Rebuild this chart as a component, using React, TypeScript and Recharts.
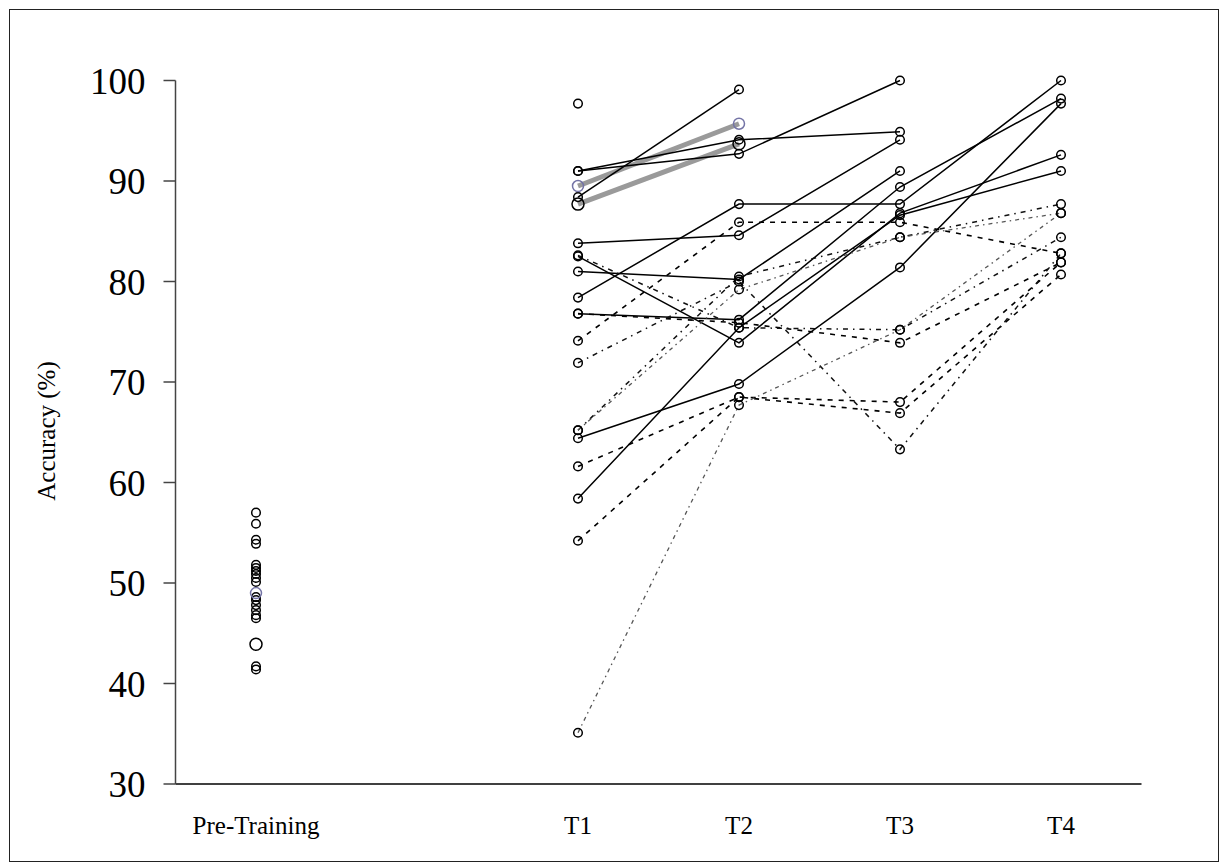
import { ComposedChart, Line, Scatter, XAxis, YAxis } from 'recharts';

// x positions: 0 = Pre-Training, 2..5 = T1..T4 (slot 1 left empty)
const tickPositions = [0, 2, 3, 4, 5];
const tickLabels: Record<number, string> = { 0: 'Pre-Training', 2: 'T1', 3: 'T2', 4: 'T3', 5: 'T4' };
const sessionX = [2, 3, 4, 5];
const yTicks = [30, 40, 50, 60, 70, 80, 90, 100];

const preTraining = [57.0, 55.9, 54.3, 53.9, 51.8, 51.5, 51.2, 50.9, 50.5, 50.1, 48.6, 48.3, 47.8, 47.3, 46.8, 46.5, 41.7, 41.4];

// group summaries (pre, T1, T2)
const purpleMean = [49.0, 89.5, 95.7];
const blackMean = [43.9, 87.7, 93.7];

// individual learners, values at T1..T4 (null = no session)
const solidRuns: (number | null)[][] = [
  [97.7, null, null, null],
  [88.4, 99.1, null, null],
  [91.0, 94.1, 94.9, null],
  [91.0, 92.7, 100.0, null],
  [83.8, 84.6, 94.1, null],
  [78.4, 87.7, 87.7, 100.0],
  [81.0, 80.2, 91.0, null],
  [82.5, 73.9, 86.8, 92.6],
  [76.8, 76.2, 89.4, 98.2],
  [58.4, 75.4, 86.6, 91.0],
  [64.4, 69.8, 81.4, 97.7],
];
const dashedRuns: (number | null)[][] = [
  [74.1, 85.9, 85.9, 82.8],
  [76.8, 75.9, 73.9, 81.9],
  [61.6, 68.5, 68.0, 81.9],
  [54.2, 68.5, 66.9, 80.7],
];
const dotDashRuns: (number | null)[][] = [
  [82.6, 75.4, 75.2, 84.4],
  [71.9, 80.0, 63.3, 82.8],
  [65.2, 80.5, 84.4, 87.7],
];
const greyRuns: (number | null)[][] = [
  [35.1, 67.7, 75.2, 86.8],
  [65.2, 79.2, 84.4, 86.8],
];

const FONT = '"Liberation Serif", "Times New Roman", serif';

const toPoints = (run: (number | null)[]) =>
  run.map((v, i) => ({ x: sessionX[i], y: v })).filter((p) => p.y !== null);

const openDot = (r: number, stroke: string) => (p: any) => (
  <circle key={`dot-${p.index}`} cx={p.cx} cy={p.cy} r={r} fill="none" stroke={stroke} strokeWidth={1.5} />
);

const XTick = ({ x, y, payload }: any) => (
  <text x={x} y={y + 50} textAnchor="middle" fontSize={25} fontFamily={FONT} fill="#000">
    {tickLabels[payload.value]}
  </text>
);

const YLabel = () => (
  <text x={45} y={421} transform="rotate(-90, 45, 421)" textAnchor="middle" fontSize={25} fontFamily={FONT} fill="#000">
    Accuracy (%)
  </text>
);

const styles = [
  { runs: solidRuns, stroke: '#000', dash: undefined, width: 1.5 },
  { runs: dashedRuns, stroke: '#000', dash: '5 6', width: 1.6 },
  { runs: dotDashRuns, stroke: '#111', dash: '5 5 1.5 5', width: 1.5 },
  { runs: greyRuns, stroke: '#555', dash: '4 4 1.5 4', width: 1.3 },
];

export default function App() {
  const preData = preTraining.map((y) => ({ x: 0, y }));
  const purplePre = [{ x: 0, y: purpleMean[0] }];
  const blackPre = [{ x: 0, y: blackMean[0] }];
  const purpleLine = [{ x: 2, y: purpleMean[1] }, { x: 3, y: purpleMean[2] }];
  const blackLine = [{ x: 2, y: blackMean[1] }, { x: 3, y: blackMean[2] }];

  return (
    <div
      style={{
        position: 'absolute',
        left: 9,
        top: 9,
        width: 1208,
        height: 851,
        border: '1px solid #222',
        background: '#fff',
        fontFamily: FONT,
      }}
    >
      <ComposedChart width={1208} height={851} margin={{ top: 70.5, right: 76.5, left: 65.5, bottom: 27 }}>
        <XAxis
          type="number"
          dataKey="x"
          domain={[-0.5, 5.5]}
          ticks={tickPositions}
          tick={<XTick />}
          tickLine={false}
          tickSize={0}
          tickMargin={0}
          height={50}
          axisLine={{ stroke: '#000', strokeWidth: 1.5 }}
          allowDuplicatedCategory
        />
        <YAxis
          type="number"
          dataKey="y"
          domain={[30, 100]}
          ticks={yTicks}
          width={100}
          tickSize={12}
          tickMargin={18}
          tick={{ fontSize: 37, fill: '#000', fontFamily: FONT }}
          tickLine={{ stroke: '#444', strokeWidth: 1.5 }}
          axisLine={{ stroke: '#444', strokeWidth: 1.5 }}
          label={<YLabel />}
        />
        <Line data={purpleLine} dataKey="y" stroke="#9a9a9a" strokeWidth={5} dot={false} isAnimationActive={false} />
        <Line data={blackLine} dataKey="y" stroke="#9a9a9a" strokeWidth={5} dot={false} isAnimationActive={false} />
        {styles.flatMap((s, si) =>
          s.runs.map((run, ri) => (
            <Line
              key={`run-${si}-${ri}`}
              data={toPoints(run)}
              dataKey="y"
              stroke={s.stroke}
              strokeWidth={s.width}
              strokeDasharray={s.dash}
              dot={openDot(4.3, '#000')}
              activeDot={false}
              isAnimationActive={false}
            />
          ))
        )}
        <Line data={blackLine} dataKey="y" stroke="none" dot={openDot(6, '#000')} isAnimationActive={false} />
        <Line data={purpleLine} dataKey="y" stroke="none" dot={openDot(5.5, '#7474a6')} isAnimationActive={false} />
        <Scatter data={preData} dataKey="y" shape={openDot(4.3, '#000')} isAnimationActive={false} />
        <Scatter data={blackPre} dataKey="y" shape={openDot(6, '#000')} isAnimationActive={false} />
        <Scatter data={purplePre} dataKey="y" shape={openDot(5.5, '#7474a6')} isAnimationActive={false} />
      </ComposedChart>
    </div>
  );
}
